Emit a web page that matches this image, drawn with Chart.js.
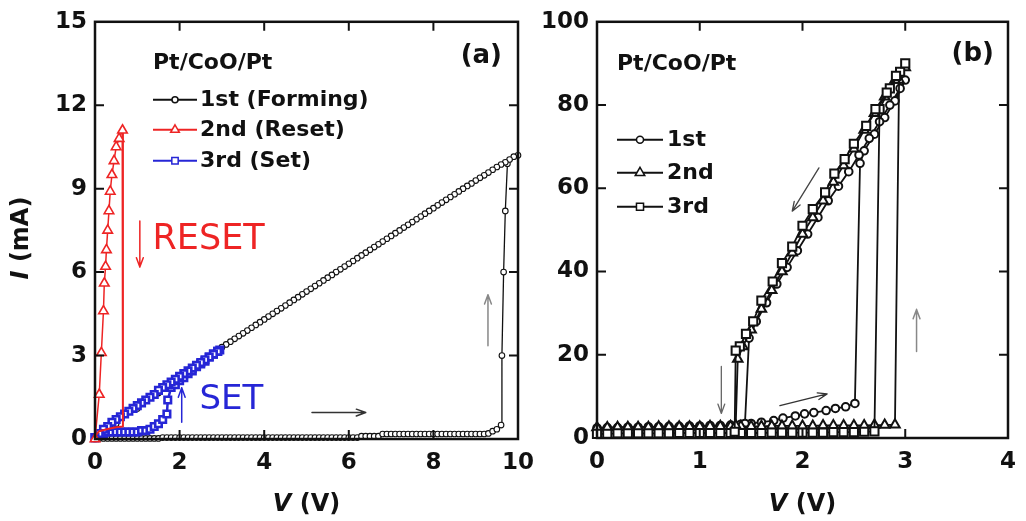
<!DOCTYPE html>
<html><head><meta charset="utf-8">
<script src="https://cdn.jsdelivr.net/npm/chart.js@4/dist/chart.umd.min.js"></script>
<style>
html,body{margin:0;padding:0;background:#fff;}
#wrap{position:relative;width:1026px;height:521px;overflow:hidden;background:#fff;}
canvas{position:absolute;top:0;}
#ca{left:0;}
#cb{left:520px;}
</style></head><body>
<div id="wrap"><canvas id="ca" width="545" height="521"></canvas><canvas id="cb" width="506" height="521"></canvas></div>
<script>
// ---------------- Panel (a) data ----------------
const aLabels = ['1st (Forming)', '2nd (Reset)', '3rd (Set)'];
const aXRange = [0, 10, 2];
const aYRange = [0, 15, 3];

// 1st (Forming): low-current sweep 0 -> 9.5 V
const aFormLowV = [
 0,0.1,0.2,0.3,0.4,0.5,0.6,0.7,0.8,0.9,
 1,1.1,1.2,1.3,1.4,1.5,1.6,1.7,1.8,1.9,
 2,2.1,2.2,2.3,2.4,2.5,2.6,2.7,2.8,2.9,
 3,3.1,3.2,3.3,3.4,3.5,3.6,3.7,3.8,3.9,
 4,4.1,4.2,4.3,4.4,4.5,4.6,4.7,4.8,4.9,
 5,5.1,5.2,5.3,5.4,5.5,5.6,5.7,5.8,5.9,
 6,6.1,6.2,6.3,6.4,6.5,6.6,6.7,6.8,6.9,
 7,7.1,7.2,7.3,7.4,7.5,7.6,7.7,7.8,7.9,
 8,8.1,8.2,8.3,8.4,8.5,8.6,8.7,8.8,8.9,
 9,9.1,9.2,9.3,9.4,9.5];
const aFormLowI = [
 0.02,0.02,0.02,0.02,0.02,0.02,0.02,0.02,0.02,0.02,
 0.02,0.02,0.02,0.02,0.02,0.02,0.05,0.05,0.05,0.05,
 0.05,0.05,0.05,0.05,0.05,0.05,0.05,0.05,0.05,0.05,
 0.05,0.05,0.05,0.05,0.05,0.05,0.05,0.05,0.05,0.05,
 0.05,0.05,0.05,0.05,0.05,0.05,0.05,0.05,0.05,0.05,
 0.05,0.05,0.05,0.05,0.05,0.05,0.05,0.05,0.05,0.05,
 0.05,0.05,0.05,0.1,0.1,0.1,0.1,0.1,0.18,0.18,
 0.18,0.18,0.18,0.18,0.18,0.18,0.18,0.18,0.18,0.18,
 0.18,0.18,0.18,0.18,0.18,0.18,0.18,0.18,0.18,0.18,
 0.18,0.18,0.18,0.2,0.28,0.35];
// forming jump
const aFormJumpV = [9.6, 9.62, 9.66, 9.7, 9.75, 10];
const aFormJumpI = [0.5, 3.0, 6.0, 8.2, 9.9, 10.2];
// high-current return 9.9 -> 0 V
const aFormHighV = [
 9.9,9.8,9.7,9.6,9.5,9.4,9.3,9.2,9.1,9,
 8.9,8.8,8.7,8.6,8.5,8.4,8.3,8.2,8.1,8,
 7.9,7.8,7.7,7.6,7.5,7.4,7.3,7.2,7.1,7,
 6.9,6.8,6.7,6.6,6.5,6.4,6.3,6.2,6.1,6,
 5.9,5.8,5.7,5.6,5.5,5.4,5.3,5.2,5.1,5,
 4.9,4.8,4.7,4.6,4.5,4.4,4.3,4.2,4.1,4,
 3.9,3.8,3.7,3.6,3.5,3.4,3.3,3.2,3.1,3,
 2.8,2.4,2,1.5,1,0.5,0];
const aFormHighI = [
 10.15,10.05,9.95,9.87,9.78,9.68,9.58,9.48,9.39,9.29,
 9.19,9.1,9.0,8.9,8.8,8.7,8.6,8.5,8.4,8.3,
 8.2,8.1,8.0,7.9,7.8,7.7,7.6,7.5,7.4,7.3,
 7.2,7.1,7.0,6.9,6.8,6.7,6.6,6.5,6.4,6.3,
 6.2,6.1,6.0,5.9,5.8,5.7,5.6,5.5,5.4,5.3,
 5.2,5.1,5.0,4.9,4.8,4.7,4.6,4.5,4.4,4.3,
 4.2,4.1,4.0,3.9,3.8,3.7,3.6,3.5,3.4,3.3,
 3.05,2.6,2.2,1.65,1.1,0.55,0];

// 2nd (Reset)
const aResetV = [0,0.1,0.15,0.2,0.22,0.25,0.27,0.3,0.33,0.36,0.4,0.45,0.5,0.57,0.65];
const aResetI = [0,1.6,3.1,4.6,5.6,6.2,6.8,7.5,8.2,8.9,9.5,10.0,10.5,10.8,11.1];
const aResetBackV = [0.65,0.66,0.5,0.3,0.1,0];
const aResetBackI = [11.1,0.45,0.42,0.36,0.28,0.1];

// 3rd (Set)
const aSetUpV = [0,0.1,0.2,0.3,0.4,0.5,0.6,0.7,0.8,0.9,1,1.1,1.2,1.3,1.4,1.5,1.6,1.7,1.72,1.8,1.9,2,2.1,2.2,2.3,2.4,2.5,2.6,2.7,2.8,2.9,2.95];
const aSetUpI = [0.05,0.15,0.2,0.25,0.25,0.25,0.25,0.25,0.25,0.25,0.25,0.3,0.3,0.35,0.45,0.55,0.7,0.9,1.4,1.85,1.95,2.1,2.2,2.35,2.45,2.6,2.7,2.8,2.95,3.05,3.15,3.2];
const aSetDnV = [2.9,2.8,2.7,2.6,2.5,2.4,2.3,2.2,2.1,2,1.9,1.8,1.7,1.6,1.5,1.4,1.3,1.2,1.1,1,0.9,0.8,0.7,0.6,0.5,0.4,0.3,0.2,0.1,0];
const aSetDnI = [3.15,3.05,2.95,2.85,2.75,2.65,2.55,2.45,2.35,2.25,2.15,2.05,1.95,1.85,1.75,1.6,1.5,1.4,1.3,1.2,1.1,1.0,0.9,0.8,0.7,0.6,0.45,0.35,0.2,0.05];

// ---------------- Panel (b) data ----------------
const bLabels = ['1st', '2nd', '3rd'];
const bXRange = [0, 4, 1];
const bYRange = [0, 100, 20];

const b1V = [0,0.1,0.2,0.3,0.4,0.5,0.6,0.7,0.8,0.9,1,1.1,1.2,1.3,1.4,1.5,1.6,
 1.72,1.81,1.93,2.02,2.11,2.23,2.32,2.42,2.51,
 2.56,2.6,2.7,2.8,2.9,3,
 2.95,2.85,2.75,2.65,2.55,2.45,2.35,2.25,2.15,2.05,1.95,1.85,1.75,1.65,1.55,1.48,1.44];
const b1I = [2.4,2.5,2.5,2.6,2.6,2.7,2.7,2.8,2.8,2.9,2.9,3.0,3.0,3.1,3.3,3.5,3.8,
 4.2,4.8,5.3,5.8,6.1,6.6,7.1,7.5,8.3,
 66,69,73,77,81,86,
 84,80,76,72,68,64,60.5,57,53,49,45,41,37,32.5,28,24,3.5];

const b2V = [0,0.1,0.2,0.3,0.4,0.5,0.6,0.7,0.8,0.9,1,1.1,1.2,1.3,1.4,1.5,1.6,1.7,1.8,1.9,2,2.1,2.2,2.3,2.4,2.5,2.6,2.7,2.8,2.9,
 2.94,3,
 2.9,2.8,2.7,2.6,2.5,2.4,2.3,2.2,2.1,2,1.9,1.8,1.7,1.6,1.5,1.42,1.37,1.35];
const b2I = [2.5,2.5,2.6,2.6,2.6,2.6,2.7,2.7,2.7,2.7,2.7,2.8,2.8,2.8,2.8,2.8,2.8,2.9,2.9,2.9,2.9,2.9,3.0,3.0,3.0,3.0,3.0,3.1,3.1,3.2,
 86,89,
 86,82,78,74,69.5,65.5,61.5,57,53,49,44.5,40,35.5,31,26,22,19,3.0];

const b3V = [0,0.1,0.2,0.3,0.4,0.5,0.6,0.7,0.8,0.9,1,1.1,1.2,1.3,1.4,1.5,1.6,1.7,1.8,1.9,2,2.1,2.2,2.3,2.4,2.5,2.6,2.7,
 2.75,2.85,2.95,3,
 2.91,2.82,2.71,2.62,2.5,2.41,2.31,2.22,2.1,2,1.9,1.8,1.71,1.6,1.52,1.45,1.39,1.35,1.34];
const b3I = [1.0,1.0,1.1,1.1,1.1,1.1,1.1,1.1,1.2,1.2,1.2,1.2,1.2,1.2,1.2,1.2,1.2,1.3,1.3,1.3,1.3,1.3,1.3,1.4,1.4,1.4,1.5,1.6,
 79,84,88,90,
 87,83,79,75,70.7,67,63.5,59,55,51,46,42,37.6,33,28,25,22,21,1.5];

// ---------------- helpers ----------------
const FONT = '"DejaVu Sans", "Liberation Sans", sans-serif';
const RED = '#ee2424', BLUE = '#2626d6', INK = '#111';
Chart.defaults.font.family = FONT;

function pts(V, I) { return V.map((v, i) => ({x: v, y: I[i]})); }

function marker(ctx, style, x, y, r, color, lw) {
  ctx.save();
  ctx.fillStyle = '#fff'; ctx.strokeStyle = color; ctx.lineWidth = lw;
  ctx.beginPath();
  if (style === 'circle') ctx.arc(x, y, r, 0, Math.PI * 2);
  else if (style === 'triangle') {
    ctx.moveTo(x, y - r); ctx.lineTo(x + r * 0.866, y + r * 0.5); ctx.lineTo(x - r * 0.866, y + r * 0.5); ctx.closePath();
  } else { const s = r * 0.707; ctx.rect(x - s, y - s, 2 * s, 2 * s); }
  ctx.fill(); ctx.stroke(); ctx.restore();
}

function drawParts(ctx, parts, cx, cy, size, rot) {
  ctx.save();
  ctx.translate(cx, cy);
  if (rot) ctx.rotate(-Math.PI / 2);
  ctx.fillStyle = INK; ctx.textBaseline = 'middle'; ctx.textAlign = 'left';
  let total = 0;
  parts.forEach(p => { ctx.font = (p.it ? 'italic ' : '') + 'bold ' + size + 'px ' + FONT; p.w = ctx.measureText(p.t).width; total += p.w; });
  let x = -total / 2;
  parts.forEach(p => { ctx.font = (p.it ? 'italic ' : '') + 'bold ' + size + 'px ' + FONT; ctx.fillText(p.t, x, 0); x += p.w; });
  ctx.restore();
}

function arrow(ctx, x1, y1, x2, y2, color, lw) {
  ctx.save();
  ctx.strokeStyle = color; ctx.lineWidth = lw; ctx.lineCap = 'round';
  const ang = Math.atan2(y2 - y1, x2 - x1), h = 10;
  ctx.beginPath();
  ctx.moveTo(x1, y1); ctx.lineTo(x2, y2);
  ctx.moveTo(x2, y2); ctx.lineTo(x2 - h * Math.cos(ang - 0.35), y2 - h * Math.sin(ang - 0.35));
  ctx.moveTo(x2, y2); ctx.lineTo(x2 - h * Math.cos(ang + 0.35), y2 - h * Math.sin(ang + 0.35));
  ctx.stroke();
  ctx.restore();
}

function framePlugin(cfg) {
  return {
    id: 'frame' + cfg.id,
    afterDraw(chart) {
      const ctx = chart.ctx, a = chart.chartArea, xs = chart.scales.x, ys = chart.scales.y;
      ctx.save();
      // arrows (data coordinates)
      cfg.arrows.forEach(r => arrow(ctx, xs.getPixelForValue(r[0]), ys.getPixelForValue(r[1]),
        xs.getPixelForValue(r[2]), ys.getPixelForValue(r[3]), r[4], r[5]));
      // annotation texts
      cfg.texts.forEach(t => {
        ctx.font = t.font; ctx.fillStyle = t.color; ctx.textBaseline = 'middle'; ctx.textAlign = 'left';
        ctx.fillText(t.text, xs.getPixelForValue(t.x), ys.getPixelForValue(t.y));
      });
      // frame
      ctx.strokeStyle = INK; ctx.lineWidth = 2.5;
      ctx.strokeRect(a.left, a.top, a.right - a.left, a.bottom - a.top);
      // inward ticks
      const tl = 9;
      ctx.lineWidth = 2; ctx.beginPath();
      xs.ticks.forEach(t => {
        if (t.value <= xs.min || t.value >= xs.max) return;
        const p = xs.getPixelForValue(t.value);
        ctx.moveTo(p, a.bottom); ctx.lineTo(p, a.bottom - tl);
        ctx.moveTo(p, a.top); ctx.lineTo(p, a.top + tl);
      });
      ys.ticks.forEach(t => {
        if (t.value <= ys.min || t.value >= ys.max) return;
        const p = ys.getPixelForValue(t.value);
        ctx.moveTo(a.left, p); ctx.lineTo(a.left + tl, p);
        ctx.moveTo(a.right, p); ctx.lineTo(a.right - tl, p);
      });
      ctx.stroke();
      // axis titles
      drawParts(ctx, [{t: 'V', it: true}, {t: ' (V)'}], (a.left + a.right) / 2, 505, 24, false);
      if (cfg.yTitle) drawParts(ctx, [{t: 'I', it: true}, {t: ' (mA)'}], 22, 238, 24, true);
      // legend
      const L = cfg.legend;
      ctx.fillStyle = INK; ctx.textBaseline = 'middle'; ctx.textAlign = 'left';
      ctx.font = 'bold 22px ' + FONT;
      ctx.fillText(L.head, a.left + L.x0, a.top + L.headY);
      L.items.forEach((it, i) => {
        const y = a.top + L.ys[i];
        ctx.strokeStyle = it.color; ctx.lineWidth = 2;
        ctx.beginPath(); ctx.moveTo(a.left + L.x0, y); ctx.lineTo(a.left + L.x1, y); ctx.stroke();
        marker(ctx, it.style, a.left + (L.x0 + L.x1) / 2, y, it.r, it.color, 1.5);
        ctx.fillStyle = INK; ctx.font = 'bold 22px ' + FONT;
        ctx.fillText(it.label, a.left + L.tx, y);
      });
      // panel letter
      ctx.font = 'bold 26px ' + FONT; ctx.textAlign = 'right'; ctx.fillStyle = INK;
      ctx.fillText(cfg.letter, a.right - cfg.letterDx, cfg.letterY);
      ctx.restore();
    }
  };
}

function axes(xr, yr, yWidth, xHeight) {
  const tickFont = {family: FONT, weight: 'bold', size: 23};
  return {
    x: {type: 'linear', min: xr[0], max: xr[1],
        ticks: {stepSize: xr[2], font: tickFont, color: INK, padding: 10, maxRotation: 0},
        grid: {display: false, drawTicks: false}, border: {display: false},
        afterFit: s => { s.height = xHeight; }},
    y: {type: 'linear', min: yr[0], max: yr[1],
        ticks: {stepSize: yr[2], font: tickFont, color: INK, padding: 8},
        grid: {display: false, drawTicks: false}, border: {display: false},
        afterFit: s => { s.width = yWidth; }}
  };
}

const common = {
  responsive: false, animation: false, devicePixelRatio: 1, events: [],
  plugins: {legend: {display: false}, tooltip: {enabled: false}}
};

// ---------------- Chart (a) ----------------
new Chart(document.getElementById('ca'), {
  type: 'scatter',
  data: {datasets: [
    {label: aLabels[1], data: pts(aResetV, aResetI), showLine: true, borderColor: RED, borderWidth: 1.5,
     pointStyle: 'triangle', pointRadius: 5.5, pointBorderWidth: 1.6, pointBorderColor: RED, pointBackgroundColor: '#fff', clip: false},
    {label: '', data: pts(aResetBackV, aResetBackI), showLine: true, borderColor: RED, borderWidth: 2, pointRadius: 0, clip: false},
    {label: aLabels[2], data: pts(aSetUpV.concat(aSetDnV), aSetUpI.concat(aSetDnI)), showLine: true, borderColor: BLUE, borderWidth: 2.5,
     pointStyle: 'rect', pointRadius: 4.6, pointBorderWidth: 2.6, pointBorderColor: BLUE, pointBackgroundColor: '#fff', clip: false},
    {label: aLabels[0], data: pts(aFormLowV.concat(aFormJumpV, aFormHighV), aFormLowI.concat(aFormJumpI, aFormHighI)), showLine: true,
     borderColor: INK, borderWidth: 1.3, pointStyle: 'circle', pointRadius: 2.8, pointBorderWidth: 1.1,
     pointBorderColor: INK, pointBackgroundColor: '#fff', clip: false}
  ]},
  options: Object.assign({}, common, {
    layout: {padding: {left: 0, top: 15, right: 27, bottom: 0}, autoPadding: false},
    scales: axes(aXRange, aYRange, 95, 82)
  }),
  plugins: [framePlugin({
    id: 'a', yTitle: true, letter: '(a)', letterDx: 16, letterY: 56,
    legend: {head: 'Pt/CoO/Pt', x0: 58, x1: 102, tx: 105, headY: 41, ys: [78, 108, 139],
      items: [{label: aLabels[0], style: 'circle', r: 3, color: INK},
              {label: aLabels[1], style: 'triangle', r: 5, color: RED},
              {label: aLabels[2], style: 'rect', r: 4.5, color: BLUE}]},
    arrows: [[1.06, 7.84, 1.06, 6.18, RED, 1.5], [2.05, 0.6, 2.05, 1.84, BLUE, 1.5],
             [5.13, 0.95, 6.4, 0.95, '#333', 1.5], [9.29, 3.35, 9.29, 5.19, '#888', 1.5]],
    texts: [{text: 'RESET', x: 1.36, y: 7.17, font: '35px ' + FONT, color: RED},
            {text: 'SET', x: 2.47, y: 1.41, font: '34px ' + FONT, color: BLUE}]
  })]
});

// ---------------- Chart (b) ----------------
const bStyle = {showLine: true, borderColor: INK, borderWidth: 1.8, pointBorderWidth: 2,
                pointBorderColor: INK, pointBackgroundColor: '#fff', clip: false};
new Chart(document.getElementById('cb'), {
  type: 'scatter',
  data: {datasets: [
    Object.assign({label: bLabels[2], data: pts(b3V, b3I), pointStyle: 'rect', pointRadius: 5.8}, bStyle),
    Object.assign({label: bLabels[1], data: pts(b2V, b2I), pointStyle: 'triangle', pointRadius: 5.5}, bStyle),
    Object.assign({label: bLabels[0], data: pts(b1V, b1I), pointStyle: 'circle', pointRadius: 3.8}, bStyle)
  ]},
  options: Object.assign({}, common, {
    layout: {padding: {left: 0, top: 14, right: 7, bottom: 0}, autoPadding: false},
    scales: axes(bXRange, bYRange, 77, 83)
  }),
  plugins: [framePlugin({
    id: 'b', yTitle: false, letter: '(b)', letterDx: 14, letterY: 54,
    legend: {head: 'Pt/CoO/Pt', x0: 20, x1: 66, tx: 70, headY: 42, ys: [118, 151, 185],
      items: [{label: bLabels[0], style: 'circle', r: 3.5, color: INK},
              {label: bLabels[1], style: 'triangle', r: 5.5, color: INK},
              {label: bLabels[2], style: 'rect', r: 5, color: INK}]},
    arrows: [[2.16, 64.9, 1.9, 54.5, '#444', 1.3], [1.21, 17.2, 1.21, 5.9, '#666', 1.3],
             [1.78, 7.8, 2.24, 10.6, '#333', 1.3], [3.11, 20.8, 3.11, 30.9, '#888', 1.5]],
    texts: []
  })]
});
</script>
</body></html>
